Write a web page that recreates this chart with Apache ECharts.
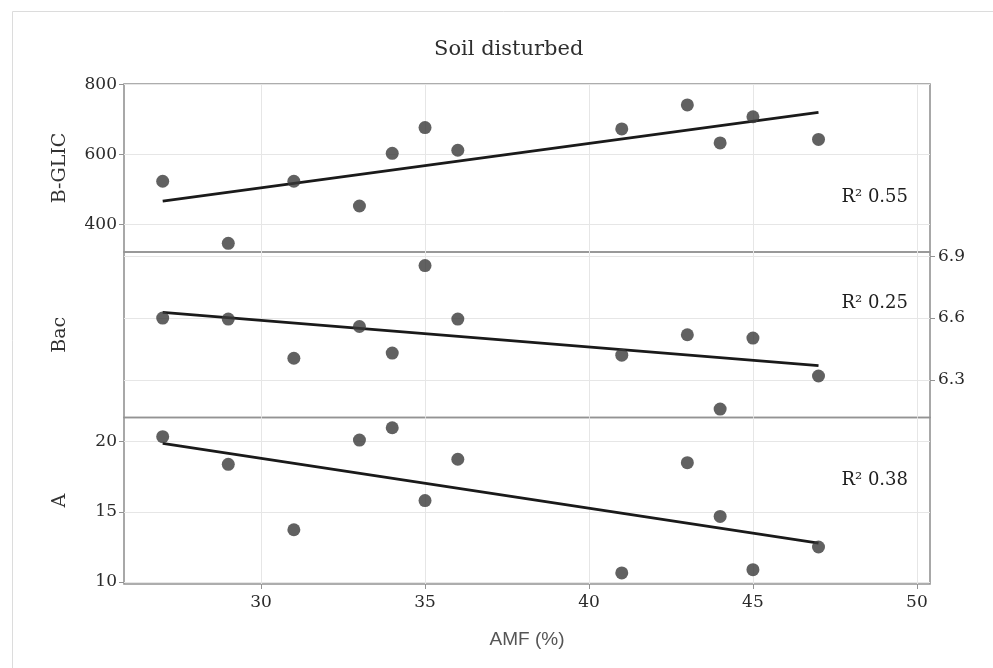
<!DOCTYPE html>
<html><head><meta charset="utf-8">
<script src="https://cdn.jsdelivr.net/npm/echarts@6/dist/echarts.min.js"></script>
<style>html,body{margin:0;padding:0;background:#fff}#c{width:993px;height:668px}</style>
</head><body><div id="c"></div>
<script>
// ---- data ----
const amf = [27, 29, 31, 33, 34, 35, 36, 41, 43, 44, 45, 47];
const bglic = [523, 345, 523, 452, 603, 677, 612, 673, 742, 633, 708, 643];
const bac = [6.600, 6.595, 6.405, 6.559, 6.430, 6.854, 6.595, 6.420, 6.519, 6.159, 6.503, 6.319];
const aVals = [20.36, 18.39, 13.72, 20.12, 21.00, 15.80, 18.75, 10.64, 18.51, 14.67, 10.87, 12.49];
const fitX = [27, 47];
const fitBglic = [466, 720.5];
const fitBac = [6.627, 6.369];
const fitA = [19.89, 12.77];
const xTicks = [30, 35, 40, 45, 50];
const bglicTicks = [400, 600, 800];
const bacTicks = [6.3, 6.6, 6.9];
const aTicks = [10, 15, 20];
const r2Labels = ['R\u00b2 0.55', 'R\u00b2 0.25', 'R\u00b2 0.38'];
const panelNames = ['B-GLIC', 'Bac', 'A'];
const chartTitle = 'Soil disturbed';
const xName = 'AMF (%)';

// ---- layout / style ----
const SERIF = '"DejaVu Serif", "Liberation Serif", serif';
const SANS = '"Liberation Sans", Arial, sans-serif';
const gridDefs = [
  { top: 84, height: 168 },
  { top: 252, height: 165.5 },
  { top: 417.5, height: 166.5 }
];
const yRanges = [[320, 802], [6.118, 6.92], [9.85, 21.73]];
const yTickSets = [bglicTicks, bacTicks, aTicks];
const seriesVals = [bglic, bac, aVals];
const fitVals = [fitBglic, fitBac, fitA];

const pair = (xs, ys) => xs.map((x, i) => [x, ys[i]]);
const gridLineColor = '#e6e6e6';
const borderColor = '#939393';
const labelColor = '#2a2a2a';

const grids = gridDefs.map(g => ({
  left: 124, right: 63, top: g.top, height: g.height,
  show: true, borderColor: borderColor, borderWidth: 1.6,
  containLabel: false, outerBoundsMode: 'none'
}));

const xAxes = [0, 1, 2].map(i => ({
  type: 'value', gridIndex: i, min: 25.82, max: 50.4,
  axisLine: { show: false },
  axisTick: { show: i === 2, customValues: xTicks, length: 5, lineStyle: { color: borderColor } },
  axisLabel: { show: i === 2, customValues: xTicks, fontFamily: SERIF, fontSize: 17, color: labelColor, margin: 10 },
  splitLine: { show: true, lineStyle: { color: gridLineColor, width: 1 } },
  name: i === 2 ? xName : '',
  nameLocation: 'middle', nameGap: 46,
  nameTextStyle: { fontFamily: SANS, fontSize: 19, color: '#555' }
}));

const yAxes = [];
[0, 1, 2].forEach(i => {
  const hasLabels = i !== 1;
  yAxes.push({
    type: 'value', gridIndex: i, position: 'left',
    min: yRanges[i][0], max: yRanges[i][1],
    axisLine: { show: false },
    axisTick: { show: hasLabels, customValues: yTickSets[i], length: 5, lineStyle: { color: borderColor } },
    axisLabel: { show: hasLabels, customValues: yTickSets[i], fontFamily: SERIF, fontSize: 17, color: labelColor, margin: 7 },
    splitLine: { show: true, lineStyle: { color: gridLineColor, width: 1 } },
    name: panelNames[i], nameLocation: 'middle', nameGap: 54, nameRotate: 90,
    nameTextStyle: { fontFamily: SERIF, fontSize: 19, color: '#333' }
  });
});
yAxes.push({
  type: 'value', gridIndex: 1, position: 'right',
  min: yRanges[1][0], max: yRanges[1][1],
  axisLine: { show: false },
  axisTick: { show: true, customValues: bacTicks, length: 5, lineStyle: { color: borderColor } },
  axisLabel: { show: true, customValues: bacTicks, fontFamily: SERIF, fontSize: 17, color: labelColor, margin: 8 },
  splitLine: { show: false }
});
const yIndexForPanel = [0, 3, 2];

const series = [];
[0, 1, 2].forEach(i => {
  series.push({
    type: 'line', xAxisIndex: i, yAxisIndex: yIndexForPanel[i],
    data: pair(fitX, fitVals[i]), symbol: 'none', silent: true,
    lineStyle: { color: '#1a1a1a', width: 2.8 }, z: 3
  });
  series.push({
    type: 'scatter', xAxisIndex: i, yAxisIndex: yIndexForPanel[i],
    data: pair(amf, seriesVals[i]), symbol: 'circle', symbolSize: 13,
    itemStyle: { color: '#3a3a3a' }, z: 4
  });
});

const r2Y = [199, 305, 482];
const graphic = [
  { type: 'rect', shape: { x: 12.5, y: 11.5, width: 1000, height: 700 },
    style: { fill: 'none', stroke: '#dcdcdc', lineWidth: 1 }, silent: true, z: -1 }
].concat(r2Labels.map((t, i) => ({
  type: 'text', right: 85, top: r2Y[i] - 11,
  style: { text: t, font: '18px ' + SERIF, fill: '#1e1e1e' }
})));

const chart = echarts.init(document.getElementById('c'), null, { renderer: 'canvas' });
chart.setOption({
  animation: false,
  backgroundColor: '#fff',
  title: { text: chartTitle, left: 429, top: 34,
    textStyle: { fontFamily: SERIF, fontSize: 21, fontWeight: 'normal', color: '#2e2e2e' } },
  grid: grids, xAxis: xAxes, yAxis: yAxes, series: series, graphic: graphic
});
</script></body></html>
